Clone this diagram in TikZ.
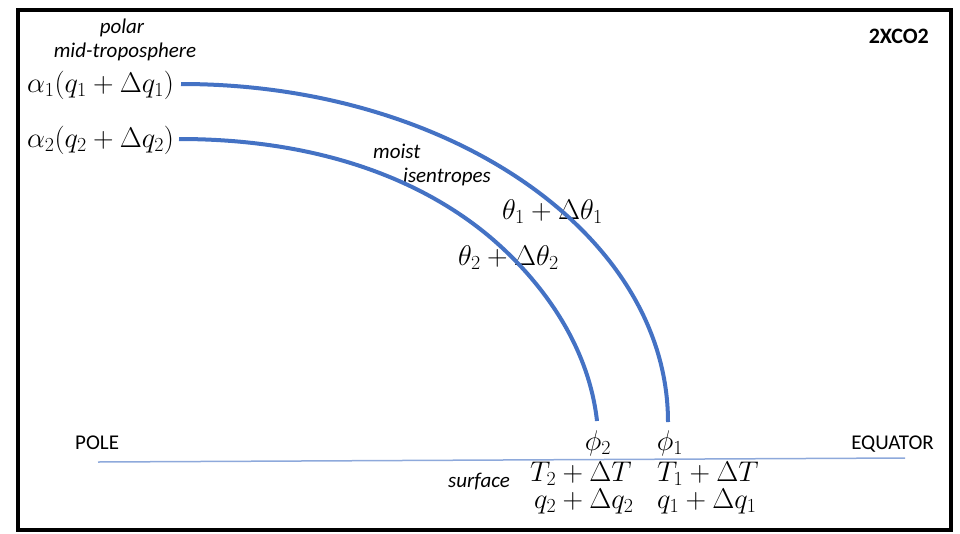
\RequirePackage{fix-cm}
\documentclass[tikz,border=0pt]{standalone}
\usepackage{fontspec}
\newfontfamily\carl{Carlito}
\definecolor{curveblue}{HTML}{4472C4}
\definecolor{surfblue}{HTML}{8EA9DB}
\begin{document}
\begin{tikzpicture}[x=1pt,y=-1pt,
  mathlbl/.style={font=\fontsize{28.5}{32}\selectfont, inner sep=0pt},
  sanslbl/.style={font=\carl\fontsize{21}{25}\selectfont, inner sep=0pt},
  sansit/.style={font=\carl\itshape\fontsize{21}{25}\selectfont, inner sep=0pt},
  sansbf/.style={font=\carl\bfseries\fontsize{22}{26}\selectfont, inner sep=0pt},
  isen/.style={draw=curveblue, line width=4pt},
  surf/.style={draw=surfblue, line width=1.5pt}]
\useasboundingbox (0,0) rectangle (960,533);
\draw[line width=4pt] (18,10) rectangle (951,530);

% labels
\node[sansit, anchor=base] (polar) at (122,33) {polar};
\node[sansit, anchor=base] (midtrop) at (125,57) {mid-troposphere};
\node[sansbf, anchor=base east] (co2) at (929,43) {2XCO2};
\node[mathlbl, anchor=base west] (a1) at (27,92) {$\alpha_1(q_1+\Delta q_1)$};
\node[mathlbl, anchor=base west] (a2) at (27,147) {$\alpha_2(q_2+\Delta q_2)$};
\node[sansit, anchor=base west] (moist) at (373,158) {moist};
\node[sansit, anchor=base west] (isentr) at (403,182) {isentropes};
\node[mathlbl, anchor=base west] (th1) at (502,219) {$\theta_1+\Delta\theta_1$};
\node[mathlbl, anchor=base west] (th2) at (458,265) {$\theta_2+\Delta\theta_2$};
\node[sanslbl, anchor=base west] (pole) at (75,449) {POLE};
\node[sanslbl, anchor=base east] (equator) at (934,449) {EQUATOR};
\node[mathlbl, anchor=base] (phi2) at (598,450) {$\phi_2$};
\node[mathlbl, anchor=base] (phi1) at (670,450) {$\phi_1$};
\node[sansit, anchor=base west] (surface) at (448,487) {surface};
\node[mathlbl, anchor=base west] (T2) at (530,481) {$T_2+\Delta T$};
\node[mathlbl, anchor=base west] (T1) at (657,481) {$T_1+\Delta T$};
\node[mathlbl, anchor=base west] (q2) at (534,508) {$q_2+\Delta q_2$};
\node[mathlbl, anchor=base west] (q1) at (657,508) {$q_1+\Delta q_1$};

% surface line
\coordinate (sL) at (98,462);
\coordinate (sR) at (905,458);
\draw[surf] (sL) -- (sR);

% isentropes
\coordinate (s1) at (181,84);
\coordinate (e1) at (668,422);
\coordinate (s2) at (179,139);
\coordinate (m2) at (490,237);
\coordinate (e2) at (597,421);
\draw[isen] (s1) .. controls (450,84) and (668,235) .. (e1);
\draw[isen] (s2) .. controls (318,139) and (421,179) .. (m2)
                 .. controls (536,276) and (588,340) .. (e2);
\end{tikzpicture}
\end{document}
